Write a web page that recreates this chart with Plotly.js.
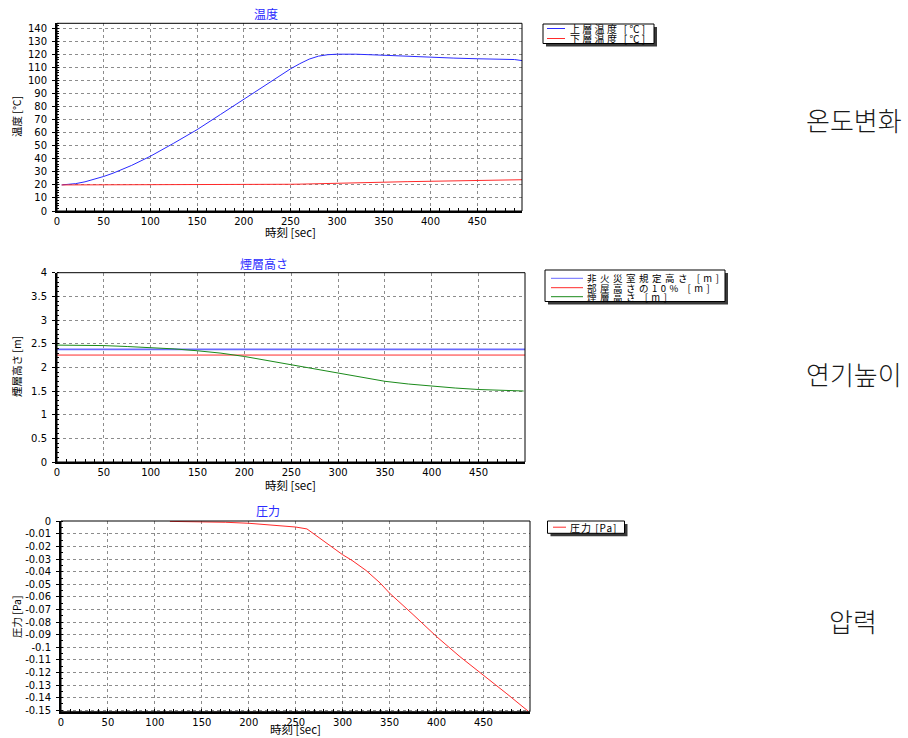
<!DOCTYPE html>
<html>
<head>
<meta charset="utf-8">
<script src="https://cdn.plot.ly/plotly-3.0.1.min.js"></script>
<style>html,body{margin:0;padding:0;background:#fff;}#chart{width:908px;height:738px;}</style>
</head>
<body>
<div id="chart"></div>
<script>
// ---------- data ----------
const chartTitles = ["温度", "煙層高さ", "圧力"];
const sideLabels = ["온도변화", "연기높이", "압력"];
const xTitle = "時刻 [sec]";
const yTitles = ["温度 [℃]", "煙層高さ [m]", "圧力 [Pa]"];

// chart 1: temperature
const tempTime = [5,10,20,30,40,50,60,70,80,90,100,125,150,175,200,225,250,260,270,280,290,300,320,350,375,400,425,450,475,490,498];
const upperTemp = [20,20.2,21,22.4,24.3,26.5,29,31.8,35,38.5,42,52,62.4,74,85.7,97.5,109,113,116.5,118.8,119.9,120.3,120.3,119.5,118.6,118,117.3,116.8,116.5,116.2,115.4];
const lowerTemp = [20,20,20,20,20,20,20,20,20,20,20,20.1,20.1,20.2,20.2,20.3,20.5,20.6,20.8,20.9,21.1,21.3,21.6,22.1,22.5,22.8,23.1,23.3,23.6,23.8,24];
const tempNames = ["上層温度 [℃]", "下層温度 [℃]"];

// chart 2: smoke layer height
const smokeTime = [0,25,50,75,100,125,150,175,200,225,250,275,300,325,350,375,400,425,450,475,498];
const smokeHeight = [2.47,2.47,2.46,2.44,2.42,2.39,2.35,2.30,2.23,2.14,2.05,1.96,1.87,1.78,1.705,1.648,1.602,1.563,1.532,1.512,1.50];
const refTime = [0, 500];
const nonFireHeight = [2.38, 2.38];
const tenPctHeight = [2.26, 2.26];
const smokeNames = ["非火災室規定高さ [m]", "部屋高さの10% [m]", "煙層高さ [m]"];

// chart 3: pressure
const presTime = [116,130,150,175,200,225,250,262,270,280,290,300,310,325,340,350,375,400,425,450,475,498];
const pressure = [0,-0.0001,-0.0003,-0.0007,-0.0015,-0.0028,-0.0045,-0.006,-0.0103,-0.0157,-0.021,-0.0265,-0.031,-0.039,-0.049,-0.057,-0.074,-0.0915,-0.1075,-0.122,-0.137,-0.151];
const presNames = ["圧力 [Pa]"];
const presTickVals = [0,-0.01,-0.02,-0.03,-0.04,-0.05,-0.06,-0.07,-0.08,-0.09,-0.1,-0.11,-0.12,-0.13,-0.14,-0.15];
const presTickText = ["0","-0.01","-0.02","-0.03","-0.04","-0.05","-0.06","-0.07","-0.08","-0.09","-0.1","-0.11","-0.12","-0.13","-0.14","-0.15"];

// ---------- styling / layout helpers ----------
const W = 908, H = 738;
const px = x => x / W;
const py = y => 1 - y / H;
const BLUE = "#2a2aff", RED = "#ff2a2a", GREEN = "#1a8a1a";
const CJK = "Noto Sans CJK JP";
const TICKF = {family: "DejaVu Sans", size: 10, color: "#000"};
const GRIDC = "#8c8c8c";
const GRIDDASH = "3px,3px";

function xAxis(dom, range, anchor) {
  return {
    domain: dom, range: range, anchor: anchor,
    showline: true, linecolor: "#000", linewidth: 2, mirror: false,
    showgrid: true, gridcolor: GRIDC, griddash: GRIDDASH, gridwidth: 1,
    dtick: 50, tick0: 0, ticks: "inside", ticklen: 3, tickcolor: "#000",
    minor: {dtick: 10, ticks: "inside", ticklen: 3, tickcolor: "#000", showgrid: false},
    tickfont: TICKF, zeroline: false, fixedrange: true
  };
}
function yAxis(dom, range, anchor, extra) {
  return Object.assign({
    domain: dom, range: range, anchor: anchor,
    showline: true, linecolor: "#000", linewidth: 2, mirror: false,
    showgrid: true, gridcolor: GRIDC, griddash: GRIDDASH, gridwidth: 1,
    ticks: "outside", ticklen: 3, tickcolor: "#000", ticklabelstandoff: 3,
    tickfont: TICKF, zeroline: false, fixedrange: true
  }, extra);
}

const traces = [
  {x: tempTime, y: upperTemp, name: tempNames[0], mode: "lines", line: {color: BLUE, width: 1}, xaxis: "x", yaxis: "y"},
  {x: tempTime, y: lowerTemp, name: tempNames[1], mode: "lines", line: {color: RED, width: 1}, xaxis: "x", yaxis: "y"},
  {x: refTime, y: nonFireHeight, name: smokeNames[0], mode: "lines", line: {color: "#6a6aff", width: 1.6}, xaxis: "x2", yaxis: "y2"},
  {x: refTime, y: tenPctHeight, name: smokeNames[1], mode: "lines", line: {color: RED, width: 1}, xaxis: "x2", yaxis: "y2"},
  {x: smokeTime, y: smokeHeight, name: smokeNames[2], mode: "lines", line: {color: GREEN, width: 1}, xaxis: "x2", yaxis: "y2"},
  {x: presTime, y: pressure, name: presNames[0], mode: "lines", line: {color: RED, width: 1}, xaxis: "x3", yaxis: "y3"}
];

// plot boxes (pixels)
const box1 = {l: 57, r: 522, t: 23.3, b: 211};
const box2 = {l: 57, r: 525, t: 272.7, b: 462};
const box3 = {l: 61, r: 530, t: 521, b: 711.7};

const shapes = [];
const annotations = [];

// thin top/right frame of every plot
[["x","y"],["x2","y2"],["x3","y3"]].forEach(([xa, ya]) => {
  shapes.push({type: "rect", xref: xa + " domain", yref: ya + " domain", x0: 0, x1: 1, y0: 0, y1: 1,
    line: {color: "#000", width: 1}, fillcolor: "rgba(0,0,0,0)", layer: "above"});
});

// custom compact legends
function legend(bx, rows, names, colors, fs, ls) {
  shapes.push({type: "rect", xref: "paper", yref: "paper", x0: px(bx.l + 3), x1: px(bx.r + 3), y0: py(bx.b + 3), y1: py(bx.t + 3),
    line: {width: 0}, fillcolor: "#3a3a3a", layer: "above"});
  shapes.push({type: "rect", xref: "paper", yref: "paper", x0: px(bx.l), x1: px(bx.r), y0: py(bx.b), y1: py(bx.t),
    line: {color: "#000", width: 1}, fillcolor: "#fff", layer: "above"});
  rows.forEach((ry, i) => {
    shapes.push({type: "line", xref: "paper", yref: "paper", x0: px(bx.s0), x1: px(bx.s1), y0: py(ry), y1: py(ry),
      line: {color: colors[i], width: 1}, layer: "above"});
    annotations.push({xref: "paper", yref: "paper", x: px(bx.tx), y: py(ry), xanchor: "left", yanchor: "middle",
      text: '<span style="letter-spacing:' + ls + 'px">' + names[i] + '</span>', showarrow: false, borderpad: 0,
      font: {family: CJK, size: fs, color: "#000"}});
  });
}
legend({l: 543, r: 654, t: 24, b: 43.5, s0: 547, s1: 565, tx: 569}, [28.5, 38.5], tempNames, [BLUE, RED], 10, 2.3);
legend({l: 545, r: 725, t: 270, b: 301.5, s0: 551, s1: 583, tx: 586}, [278.3, 287.7, 296.7], smokeNames, ["#6a6aff", RED, GREEN], 9.5, 3.5);
legend({l: 547.5, r: 624.5, t: 521, b: 533.3, s0: 553, s1: 566, tx: 569}, [527.2], presNames, [RED], 10, 1);

// chart titles
[[266, 13], [264, 263], [268, 510]].forEach(([x, y], i) => {
  annotations.push({xref: "paper", yref: "paper", x: px(x), y: py(y), xanchor: "center", yanchor: "middle",
    text: chartTitles[i], showarrow: false, font: {family: CJK, size: 12, color: "#2a2aff"}});
});
// x-axis titles
[[290, 232, "middle"], [290, 485, "middle"], [295, 738, "bottom"]].forEach(([x, y, ya]) => {
  annotations.push({xref: "paper", yref: "paper", x: px(x), y: py(y), xanchor: "center", yanchor: ya, borderpad: 0,
    text: xTitle, showarrow: false, font: {family: CJK, size: 11.5, color: "#000"}});
});
// y-axis titles
[[16, 117], [16, 367], [16, 617]].forEach(([x, y], i) => {
  annotations.push({xref: "paper", yref: "paper", x: px(x), y: py(y), xanchor: "center", yanchor: "middle",
    text: yTitles[i], textangle: -90, showarrow: false, font: {family: CJK, size: 10.5, color: "#000"}});
});
// Korean side labels
[[854, 119], [854, 373], [853, 620]].forEach(([x, y], i) => {
  annotations.push({xref: "paper", yref: "paper", x: px(x), y: py(y), xanchor: "center", yanchor: "middle",
    text: sideLabels[i], showarrow: false, font: {family: "Noto Sans CJK KR", size: 26, weight: 300, color: "#1a1a1a"}});
});

const layout = {
  width: W, height: H,
  margin: {l: 0, r: 0, t: 0, b: 0, pad: 0},
  paper_bgcolor: "#fff", plot_bgcolor: "#fff",
  showlegend: false,
  xaxis: xAxis([px(box1.l), px(box1.r)], [0, 498], "y"),
  yaxis: yAxis([py(box1.b), py(box1.t)], [0, 144], "x", {dtick: 10, tick0: 0,
    minor: {dtick: 2, ticks: "inside", ticklen: 2, tickcolor: "#000", showgrid: false}}),
  xaxis2: xAxis([px(box2.l), px(box2.r)], [0, 499.5], "y2"),
  yaxis2: yAxis([py(box2.b), py(box2.t)], [0, 4], "x2", {dtick: 0.5, tick0: 0,
    minor: {dtick: 0.1, ticks: "inside", ticklen: 2, tickcolor: "#000", showgrid: false}}),
  xaxis3: xAxis([px(box3.l), px(box3.r)], [0, 499.6], "y3"),
  yaxis3: yAxis([py(box3.b), py(box3.t)], [-0.1512, 0.0003], "x3", {tickmode: "array", tickvals: presTickVals, ticktext: presTickText,
    minor: {dtick: 0.005, ticks: "inside", ticklen: 2, tickcolor: "#000", showgrid: false}}),
  shapes: shapes,
  annotations: annotations
};

Plotly.newPlot("chart", traces, layout, {displayModeBar: false, staticPlot: true});
</script>
</body>
</html>
